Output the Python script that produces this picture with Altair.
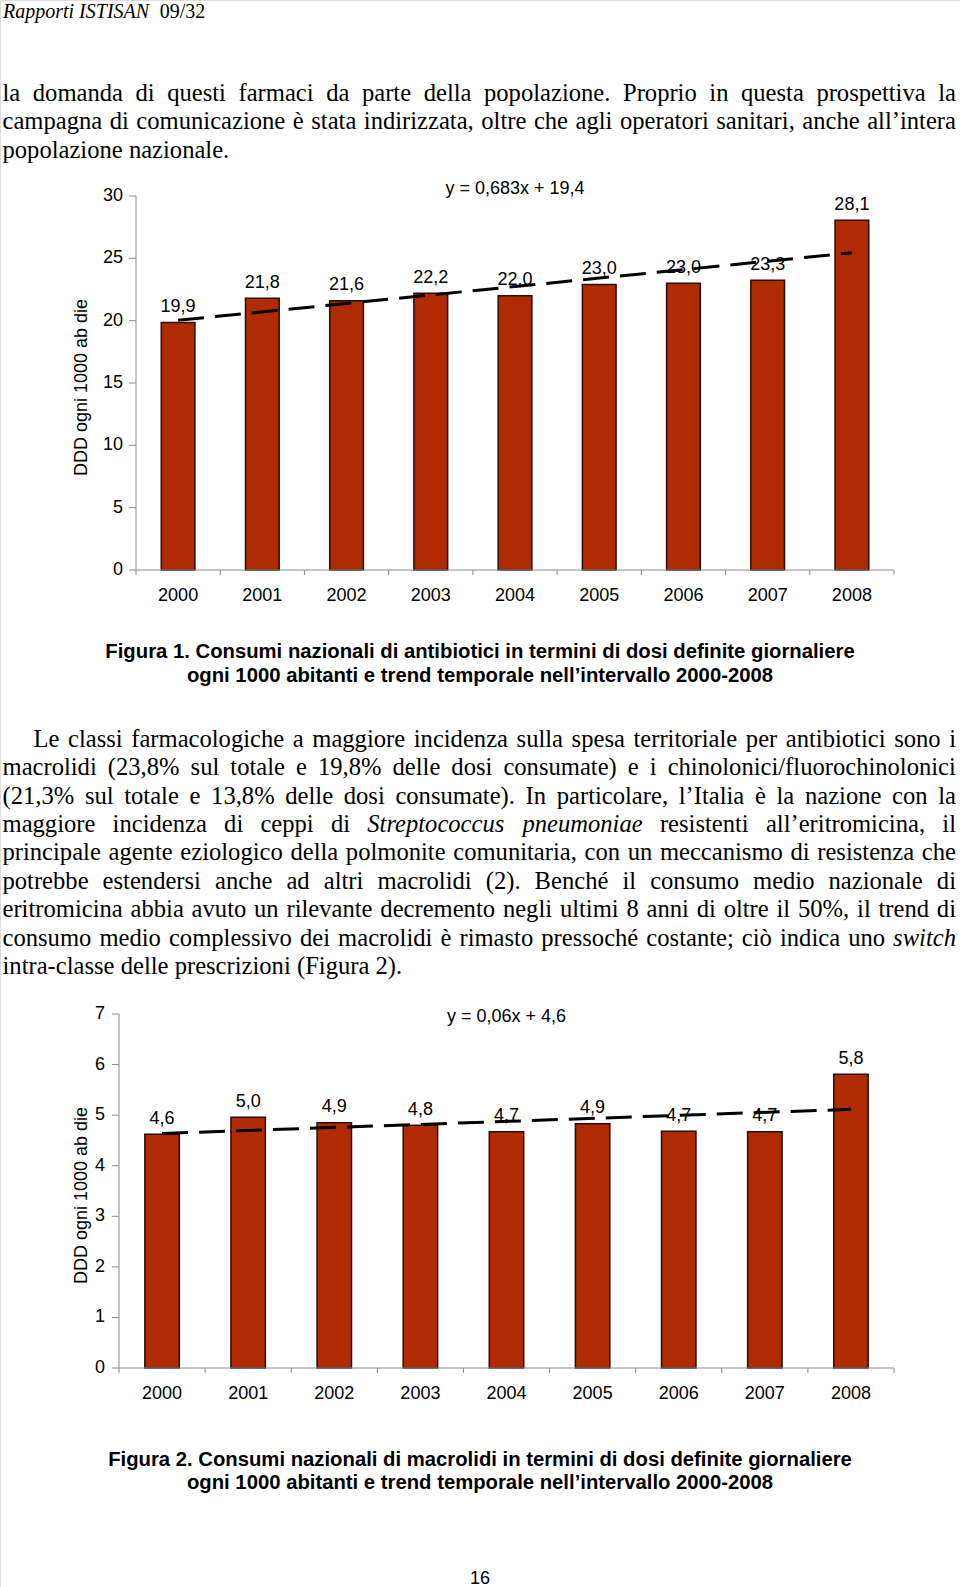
import altair as alt
import pandas as pd

# ---------------- data ----------------
YEARS = ["2000", "2001", "2002", "2003", "2004", "2005", "2006", "2007", "2008"]
YEAR_INDEX = [1, 2, 3, 4, 5, 6, 7, 8, 9]

ANTIBIOTICI = [19.85, 21.8, 21.6, 22.2, 22.0, 22.9, 23.0, 23.25, 28.05]
ANTIBIOTICI_LABELS = ["19,9", "21,8", "21,6", "22,2", "22,0", "23,0", "23,0", "23,3", "28,1"]
EQ1 = "y = 0,683x + 19,4"
Y1_TICKS = [0, 5, 10, 15, 20, 25, 30]

MACROLIDI = [4.62, 4.96, 4.85, 4.80, 4.67, 4.83, 4.68, 4.67, 5.81]
MACROLIDI_LABELS = ["4,6", "5,0", "4,9", "4,8", "4,7", "4,9", "4,7", "4,7", "5,8"]
EQ2 = "y = 0,06x + 4,6"
Y2_TICKS = [0, 1, 2, 3, 4, 5, 6, 7]

Y_TITLE = "DDD ogni 1000 ab die"

HEADER_ITALIC = "Rapporti ISTISAN"
HEADER_NUM = "09/32"
PAGE_NUMBER = "16"

PARA1 = [
    "la domanda di questi farmaci da parte della popolazione. Proprio in questa prospettiva la",
    "campagna di comunicazione è stata indirizzata, oltre che agli operatori sanitari, anche all’intera",
    "popolazione nazionale.",
]
PARA2 = [
    "Le classi farmacologiche a maggiore incidenza sulla spesa territoriale per antibiotici sono i",
    "macrolidi (23,8% sul totale e 19,8% delle dosi consumate) e i chinolonici/fluorochinolonici",
    "(21,3% sul totale e 13,8% delle dosi consumate). In particolare, l’Italia è la nazione con la",
    "maggiore incidenza di ceppi di Streptococcus pneumoniae resistenti all’eritromicina, il",
    "principale agente eziologico della polmonite comunitaria, con un meccanismo di resistenza che",
    "potrebbe estendersi anche ad altri macrolidi (2). Benché il consumo medio nazionale di",
    "eritromicina abbia avuto un rilevante decremento negli ultimi 8 anni di oltre il 50%, il trend di",
    "consumo medio complessivo dei macrolidi è rimasto pressoché costante; ciò indica uno switch",
    "intra-classe delle prescrizioni (Figura 2).",
]
ITALIC_WORDS = {"Streptococcus", "pneumoniae", "switch"}

CAPTION1 = [
    "Figura 1. Consumi nazionali di antibiotici in termini di dosi definite giornaliere",
    "ogni 1000 abitanti e trend temporale nell’intervallo 2000-2008",
]
CAPTION2 = [
    "Figura 2. Consumi nazionali di macrolidi in termini di dosi definite giornaliere",
    "ogni 1000 abitanti e trend temporale nell’intervallo 2000-2008",
]

# ---------------- styles ----------------
W, H = 960, 1587
SANS = "Liberation Sans"
SERIF = "Liberation Serif"
BAR_FILL = "#B02A02"
BAR_EDGE = "#2a0c06"
AXIS_GREY = "#8a8a8a"
BODY_SIZE = 24.6

# Times metrics (per 1000 em) for justification
TIMES_W = {" ": 250, "a": 444, "b": 500, "c": 444, "d": 500, "e": 444, "f": 333, "g": 500,
           "h": 500, "i": 278, "j": 278, "k": 500, "l": 278, "m": 778, "n": 500, "o": 500,
           "p": 500, "q": 500, "r": 333, "s": 389, "t": 278, "u": 500, "v": 500, "w": 722,
           "x": 500, "y": 500, "z": 444, "A": 722, "B": 667, "C": 667, "D": 722, "E": 611,
           "F": 556, "G": 722, "H": 722, "I": 333, "J": 389, "K": 722, "L": 611, "M": 889,
           "N": 722, "O": 722, "P": 556, "Q": 722, "R": 667, "S": 556, "T": 611, "U": 722,
           "V": 722, "W": 944, "X": 722, "Y": 722, "Z": 611, "(": 333, ")": 333, "%": 833,
           ",": 250, ".": 250, ";": 278, ":": 278, "/": 278, "’": 333, "'": 180, "-": 333,
           "è": 444, "é": 444, "à": 444, "ò": 500, "ì": 278, "ù": 500}
for d in "0123456789":
    TIMES_W[d] = 500
ITALIC_W = {"S": 500, "t": 278, "r": 389, "e": 444, "p": 500, "o": 500, "c": 444, "u": 500,
            "s": 389, "n": 500, "m": 722, "i": 278, "a": 500, "w": 667, "h": 500}

LEFT, RIGHT = 2.5, 956.0


def word_width(word, italic, size):
    tbl = ITALIC_W if italic else TIMES_W
    return sum(tbl.get(c, TIMES_W.get(c, 500)) for c in word) / 1000.0 * size


def layout(lines, y0, step, indent=0.0):
    rows = []
    for k, line in enumerate(lines):
        words = line.split(" ")
        ital = [w.strip(".,;()") in ITALIC_WORDS for w in words]
        widths = [word_width(w, it, BODY_SIZE) for w, it in zip(words, ital)]
        left = LEFT + (indent if k == 0 else 0.0)
        if k == len(lines) - 1 or len(words) < 2:
            gap = TIMES_W[" "] / 1000.0 * BODY_SIZE
        else:
            gap = (RIGHT - left - sum(widths)) / (len(words) - 1)
        x = left
        for w, wd, it in zip(words, widths, ital):
            rows.append({"x": x, "y": y0 + step * k, "w": w, "italic": it})
            x += wd + gap
    return rows


# ---------------- bar charts (axes drawn as marks) ----------------
def bar_chart(values, labels, eq, ymax, yticks, x_range, y_range, title_x, title_y,
              ylab_gap, xlab_gap, eq_value):
    df = pd.DataFrame({"year": YEARS, "idx": YEAR_INDEX, "value": values, "label": labels})
    one = pd.DataFrame({"k": [0]})
    ticks = pd.DataFrame({"tick": yticks})
    x0, x1 = x_range
    y_base = y_range[0]
    step = (x1 - x0) / len(YEARS)
    bounds = pd.DataFrame({"bx": [x0 + k * step for k in range(len(YEARS) + 1)]})

    xs = alt.Scale(domain=YEARS, range=x_range, paddingInner=0.6, paddingOuter=0.3)
    ys = alt.Scale(domain=[0, ymax], range=y_range, nice=False, zero=True)
    x = alt.X("year:N", scale=xs, axis=None)
    y = alt.Y("value:Q", scale=ys, axis=None)

    base = alt.Chart(df)
    bars = base.mark_bar(color=BAR_FILL, stroke=BAR_EDGE, strokeWidth=1.5).encode(x=x, y=y)
    labs = base.mark_text(baseline="alphabetic", dy=-10.5, font=SANS, fontSize=18,
                          color="black").encode(x=x, y=y, text="label:N")
    trend = (base.transform_regression("idx", "value")
             .transform_calculate(year="toString(1999 + datum.idx)")
             .mark_line(color="black", strokeWidth=3, strokeDash=[26, 11])
             .encode(x=x, y=y))
    eq_chart = alt.Chart(pd.DataFrame({"eq": [eq]})).mark_text(
        baseline="middle", font=SANS, fontSize=18, color="black").encode(
        x=alt.XDatum("2004", type="nominal", scale=xs, axis=None),
        y=alt.YDatum(eq_value, type="quantitative", scale=ys, axis=None),
        text="eq:N")

    # y axis
    y_dom = alt.Chart(one).mark_rule(color=AXIS_GREY, strokeWidth=1).encode(
        x=alt.value(x0), y=alt.YDatum(0, type="quantitative", scale=ys, axis=None),
        y2=alt.datum(ymax))
    yt = alt.Y("tick:Q", scale=ys, axis=None)
    y_ticks = alt.Chart(ticks).mark_rule(color=AXIS_GREY, strokeWidth=1).encode(
        x=alt.value(x0 - 7), x2=alt.value(x0), y=yt)
    y_labels = alt.Chart(ticks).mark_text(
        align="right", baseline="middle", font=SANS, fontSize=18, color="black").encode(
        x=alt.value(x0 - ylab_gap), y=yt, text="tick:Q")
    y_title = alt.Chart(one).mark_text(
        angle=270, align="center", baseline="alphabetic", font=SANS, fontSize=18,
        color="black").encode(x=alt.value(title_x), y=alt.value(title_y),
                              text=alt.value(Y_TITLE))

    # x axis
    x_dom = alt.Chart(one).mark_rule(color=AXIS_GREY, strokeWidth=1).encode(
        x=alt.value(x0), x2=alt.value(x1),
        y=alt.YDatum(0, type="quantitative", scale=ys, axis=None))
    x_ticks = alt.Chart(bounds).mark_rule(color=AXIS_GREY, strokeWidth=1).encode(
        x=alt.X("bx:Q", scale=None, axis=None), y=alt.value(y_base),
        y2=alt.value(y_base + 5))
    x_labels = base.mark_text(baseline="top", dy=xlab_gap, font=SANS, fontSize=18,
                              color="black").encode(
        x=x, y=alt.YDatum(0, type="quantitative", scale=ys, axis=None), text="year:N")

    return alt.layer(bars, trend, labs, eq_chart, y_dom, y_ticks, y_labels, y_title,
                     x_dom, x_ticks, x_labels)


chart1 = bar_chart(ANTIBIOTICI, ANTIBIOTICI_LABELS, EQ1, 30, Y1_TICKS,
                   [136, 894], [570, 196], 87, 387.5, 13, 17, 30.6)
chart2 = bar_chart(MACROLIDI, MACROLIDI_LABELS, EQ2, 7, Y2_TICKS,
                   [119, 894], [1368, 1014], 87, 1195.5, 14, 17, 6.95)

# ---------------- page text ----------------
body = pd.DataFrame(layout(PARA1, 101.2, 28.2) + layout(PARA2, 746.6, 28.45, indent=31.0))
px = alt.X("x:Q", scale=None, axis=None)
py = alt.Y("y:Q", scale=None, axis=None)

body_regular = alt.Chart(body).transform_filter("!datum.italic").mark_text(
    align="left", baseline="alphabetic", font=SERIF, fontSize=BODY_SIZE, color="black"
).encode(x=px, y=py, text="w:N")
body_italic = alt.Chart(body).transform_filter("datum.italic").mark_text(
    align="left", baseline="alphabetic", font=SERIF, fontSize=BODY_SIZE, fontStyle="italic",
    color="black"
).encode(x=px, y=py, text="w:N")

header_x2 = 3 + word_width(HEADER_ITALIC + " ", True, 20)
header_df = pd.DataFrame({"x": [3, header_x2], "y": [17.5, 17.5],
                          "t": [HEADER_ITALIC, HEADER_NUM], "italic": [True, False]})
header_it = alt.Chart(header_df).transform_filter("datum.italic").mark_text(
    align="left", baseline="alphabetic", font=SERIF, fontSize=20, fontStyle="italic",
    color="black").encode(x=px, y=py, text="t:N")
header_rg = alt.Chart(header_df).transform_filter("!datum.italic").mark_text(
    align="left", baseline="alphabetic", font=SERIF, fontSize=20, color="black"
).encode(x=px, y=py, text="t:N")

cap_df = pd.DataFrame({"x": [480, 480, 480, 480],
                       "y": [657.5, 681.5, 1465.5, 1489.0],
                       "t": CAPTION1 + CAPTION2})
captions = alt.Chart(cap_df).mark_text(
    align="center", baseline="alphabetic", font=SANS, fontSize=20.3, fontWeight="bold",
    color="black").encode(x=px, y=py, text="t:N")

pn_df = pd.DataFrame({"x": [480], "y": [1584], "t": [PAGE_NUMBER]})
page_num = alt.Chart(pn_df).mark_text(
    align="center", baseline="alphabetic", font=SANS, fontSize=18, color="black"
).encode(x=px, y=py, text="t:N")

chart = (alt.layer(chart1, chart2, body_regular, body_italic, header_it, header_rg,
                   captions, page_num)
         .resolve_scale(x="independent", y="independent")
         .properties(width=W, height=H, autosize=alt.AutoSizeParams(type="none"), padding=0,
                     background="white")
         .configure_view(strokeWidth=0, stroke="transparent")
         .configure(font=SANS))

chart.save("out.html", embed_options={"renderer": "svg", "actions": False})
